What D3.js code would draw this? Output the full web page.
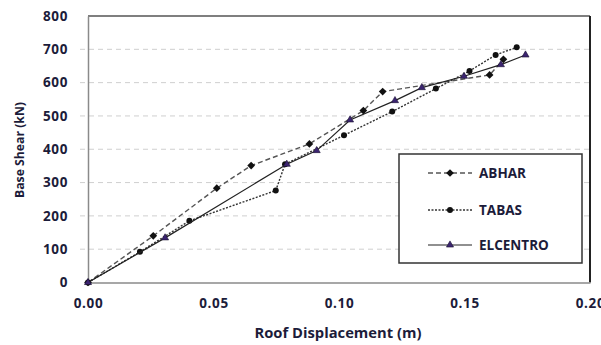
<!DOCTYPE html>
<html>
<head>
<meta charset="utf-8">
<script src="https://cdn.jsdelivr.net/npm/d3@7"></script>
<style>
  html, body { margin: 0; padding: 0; background: #fff; }
  svg text { font-family: "Open Sans", sans-serif; font-weight: 700; fill: #1c1c3a; }
</style>
</head>
<body>
<svg id="chart" width="601" height="345"></svg>
<script>
// values
const xTicks = [0, 0.05, 0.10, 0.15, 0.20];
const yTicks = [0, 100, 200, 300, 400, 500, 600, 700, 800];

const abharDisp  = [0, 0.026, 0.0513, 0.065, 0.0882, 0.1097, 0.1174, 0.160, 0.1655];
const abharShear = [0, 140, 283, 351, 416, 516, 573, 623, 670];

const tabasDisp  = [0, 0.0207, 0.0404, 0.0748, 0.0785, 0.102, 0.1212, 0.1386, 0.152, 0.1624, 0.1708];
const tabasShear = [0, 92, 185, 276, 355, 442, 513, 582, 635, 683, 706];

const elcDisp  = [0, 0.0307, 0.0792, 0.0911, 0.1044, 0.1223, 0.133, 0.1498, 0.1645, 0.1743];
const elcShear = [0, 134, 355, 396, 488, 546, 585, 619, 654, 683];

const series = [
  { name: 'ABHAR', disp: abharDisp, shear: abharShear, dash: '5,3', color: '#555', marker: 'diamond' },
  { name: 'TABAS', disp: tabasDisp, shear: tabasShear, dash: '2,1.5', color: '#333', marker: 'circle' },
  { name: 'ELCENTRO', disp: elcDisp, shear: elcShear, dash: null, color: '#222', marker: 'triangle' }
];

const svg = d3.select('#chart');
const plot = { left: 88, right: 590, top: 16, bottom: 282.5 };

const x = d3.scaleLinear().domain([0, 0.2]).range([plot.left, plot.right]);
const y = d3.scaleLinear().domain([0, 800]).range([plot.bottom, plot.top]);

// gridlines
svg.append('g')
  .selectAll('line')
  .data(yTicks.filter(d => d > 0 && d < 800))
  .enter()
  .append('line')
  .attr('x1', plot.left - 8)
  .attr('x2', plot.right)
  .attr('y1', d => y(d))
  .attr('y2', d => y(d))
  .attr('stroke', '#cfcfcf')
  .attr('stroke-width', 1)
  .attr('stroke-dasharray', '5,4');

// frame
svg.append('line').attr('x1', plot.left).attr('x2', plot.right).attr('y1', plot.top).attr('y2', plot.top)
  .attr('stroke', '#555').attr('stroke-width', 1.5);
svg.append('line').attr('x1', plot.right).attr('x2', plot.right).attr('y1', plot.top).attr('y2', plot.bottom)
  .attr('stroke', '#222').attr('stroke-width', 2);

// axes
const xAxis = svg.append('g')
  .attr('transform', `translate(0,${plot.bottom})`)
  .call(d3.axisBottom(x).tickValues(xTicks).tickFormat(d3.format('.2f')).tickSize(0).tickPadding(16));
xAxis.select('.domain').attr('stroke', '#8a8a8a').attr('stroke-width', 1.5);
xAxis.selectAll('text').attr('font-size', 13.5).style('letter-spacing', '0.6px');

const yAxis = svg.append('g')
  .attr('transform', `translate(${plot.left},0)`)
  .call(d3.axisLeft(y).tickValues(yTicks).tickSize(0).tickPadding(20));
yAxis.select('.domain').attr('stroke', '#8a8a8a').attr('stroke-width', 1.5);
yAxis.selectAll('text').attr('font-size', 13.5).style('letter-spacing', '0.6px');

// axis titles
svg.append('text')
  .attr('x', 338)
  .attr('y', 338)
  .attr('text-anchor', 'middle')
  .attr('font-size', 13.5)
  .attr('textLength', 167)
  .attr('lengthAdjust', 'spacingAndGlyphs')
  .text('Roof Displacement (m)');

svg.append('text')
  .attr('transform', 'translate(24,150) rotate(-90)')
  .attr('text-anchor', 'middle')
  .attr('font-size', 12)
  .attr('textLength', 96)
  .attr('lengthAdjust', 'spacingAndGlyphs')
  .text('Base Shear (kN)');

// markers
function drawMarker(g, type, cx, cy) {
  if (type === 'diamond') {
    g.append('path')
      .attr('d', d3.symbol().type(d3.symbolDiamond2).size(38)())
      .attr('transform', `translate(${cx},${cy})`)
      .attr('fill', '#111');
  } else if (type === 'circle') {
    g.append('circle').attr('cx', cx).attr('cy', cy).attr('r', 3).attr('fill', '#111');
  } else {
    g.append('path')
      .attr('d', d3.symbol().type(d3.symbolTriangle).size(22)())
      .attr('transform', `translate(${cx},${cy})`)
      .attr('fill', '#3b2470')
      .attr('stroke', '#1a1030')
      .attr('stroke-width', 0.6);
  }
}

const line = d3.line().x(d => x(d[0])).y(d => y(d[1]));

series.forEach(s => {
  const pts = s.disp.map((d, i) => [d, s.shear[i]]);
  const g = svg.append('g');
  g.append('path')
    .datum(pts)
    .attr('d', line)
    .attr('fill', 'none')
    .attr('stroke', s.color)
    .attr('stroke-width', s.dash ? 1.4 : 1.2)
    .attr('stroke-dasharray', s.dash);
  pts.forEach(p => drawMarker(g, s.marker, x(p[0]), y(p[1])));
});

// legend
const legend = svg.append('g');
legend.append('rect')
  .attr('x', 399).attr('y', 154).attr('width', 183).attr('height', 109)
  .attr('fill', '#fff').attr('stroke', '#333').attr('stroke-width', 1.5);

const legendY = [173, 210, 245];
series.forEach((s, i) => {
  const ly = legendY[i];
  legend.append('line')
    .attr('x1', 428).attr('x2', 472).attr('y1', ly).attr('y2', ly)
    .attr('stroke', s.color)
    .attr('stroke-width', s.dash ? 1.4 : 1.2)
    .attr('stroke-dasharray', s.dash);
  drawMarker(legend, s.marker, 450, ly);
  legend.append('text')
    .attr('x', 479).attr('y', ly + 5)
    .attr('font-size', 13.5)
    .text(s.name);
});
</script>
</body>
</html>
